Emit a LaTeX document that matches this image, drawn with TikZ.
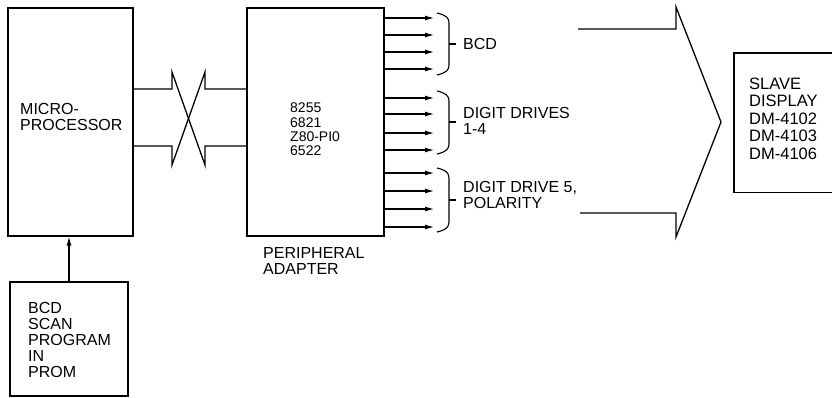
\documentclass[tikz,border=0pt]{standalone}
\usepackage{fontspec}
\setmainfont{Liberation Sans}
\usetikzlibrary{arrows.meta}
\begin{document}
\begin{tikzpicture}[x=1pt,y=-1pt,
  box/.style={draw, line width=1.7pt, inner sep=0pt, anchor=north west},
  frame/.style={line width=1.7pt},
  txt/.style={inner sep=0pt, anchor=north west, align=left, font=\fontsize{16}{16}\selectfont},
  small/.style={inner sep=0pt, anchor=north west, align=left, font=\fontsize{14}{14.3}\selectfont},
  bus/.style={line width=1.3pt, line join=miter},
  arr/.style={line width=1.1pt, -{Latex[length=9pt,width=5pt]}},
  brace/.style={line width=1.1pt}]
\useasboundingbox (0,0) rectangle (832,397);
\clip (0,0) rectangle (832,397);
% boxes
\node[box, minimum width=125, minimum height=228] (micro) at (7,7) {};
\node[box, minimum width=137, minimum height=228] (per) at (246,7) {};
\node[box, minimum width=118, minimum height=114] (prom) at (9,281) {};
\node[inner sep=0pt, anchor=north west, minimum width=98, minimum height=139] (slave) at (734,53) {};
\draw[frame] (slave.north east) -- (slave.north west) -- (slave.south west) -- (slave.south east);
% texts
\node[txt] (microtxt) at (20,103.5) {MICRO-\\PROCESSOR};
\node[small] (pertxt) at (290,103) {8255\\6821\\Z80-PI0\\6522};
\node[txt] (perlbl) at (263,247.5) {PERIPHERAL\\ADAPTER};
\node[txt] (promtxt) at (28,302) {BCD\\SCAN\\PROGRAM\\IN\\PROM};
\node[txt, font=\fontsize{16.5}{17.5}\selectfont] (slavetxt) at (749,77.5) {SLAVE\\DISPLAY\\DM-4102\\DM-4103\\DM-4106};
\node[txt] (bcd) at (463,38.5) {BCD};
\node[txt] (dd) at (463,107.5) {DIGIT DRIVES\\1-4};
\node[txt] (dd5) at (463,181.5) {DIGIT DRIVE 5,\\POLARITY};
% prom to micro
\draw[arr] (prom.north -| 69,0) -- (micro.south -| 69,0);
% crossed bus
\draw[bus] (micro.east |- 0,89) -- (172,89) -- (172,72) -- (205,165) -- (205,146) -- (per.west |- 0,146);
\draw[bus] (micro.east |- 0,146) -- (172,146) -- (172,165) -- (205,72) -- (205,89) -- (per.west |- 0,89);
% output arrows
\foreach \y in {18,35,52,69,98,114,133,150,173,191,209,227}
  \draw[arr] (per.east |- 0,\y) -- (434,\y);
% braces
\foreach \a/\m/\b in {13/44/75, 91/122/154, 168/200/232}{
  \draw[brace] (437,\a) .. controls (446,\a+2) and (449,\a+5) .. (449,\a+10) -- (449,\b-10) .. controls (449,\b-5) and (446,\b-2) .. (437,\b);
  \draw[brace] (449,\m) -- (456,\m);
}
% big arrow
\draw[bus] (578,29) -- (676,29) -- (676,7) -- (721,122) -- (676,237) -- (676,213) -- (580,213);
\end{tikzpicture}
\end{document}
